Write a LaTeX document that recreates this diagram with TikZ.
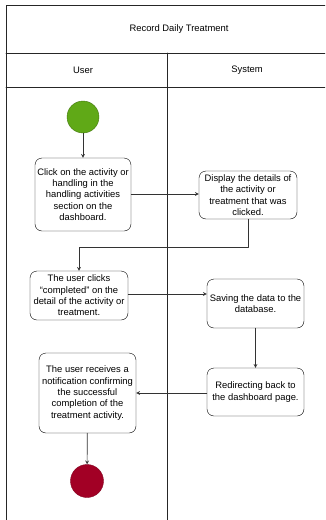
\documentclass[tikz,border=0pt]{standalone}
\usepackage{fontspec}
\setmainfont{Liberation Sans}
\definecolor{startgreen}{HTML}{60A917}
\definecolor{stopred}{HTML}{A20025}
\begin{document}
\begin{tikzpicture}[x=1pt, y=-1pt, line join=round, line cap=round, >=stealth,
		font=\fontsize{9.4pt}{11.3pt}\selectfont,
		act/.style={draw, rounded corners=7pt, align=center, inner sep=1pt},
		lane/.style={draw=black!85, line width=0.8pt},
		flow/.style={->, draw=black!80, line width=0.7pt}]
	\useasboundingbox (0,0) rectangle (325,520);
	\clip (0,0) rectangle (325,520);
	% swimlane frame
	\draw[lane] (340,5) -- (6,5) -- (6,525);
	\draw[lane] (6,53) -- (340,53);
	\draw[lane] (6,87) -- (340,87);
	\draw[lane] (167,53) -- (167,525);
	\node (title) at (179,29) {Record Daily Treatment};
	\node (user) at (83,70) {User};
	\node (system) at (247,70) {System};
	% activities
	\node[circle, fill=startgreen, draw=startgreen!70!black, minimum size=32pt, inner sep=0pt] (start) at (83,117) {};
	\node[act, minimum width=96pt, minimum height=73pt] (b1) at (83,194.5) {Click on the activity or\\handling in the\\handling activities\\section on the\\dashboard.};
	\node[act, minimum width=98pt, minimum height=48pt] (b2) at (248,195) {Display the details of\\the activity or\\treatment that was\\clicked.};
	\node[act, minimum width=98pt, minimum height=49pt] (b3) at (79,295.5) {The user clicks\\``completed'' on the\\detail of the activity or\\treatment.};
	\node[act, minimum width=97pt, minimum height=49pt] (b4) at (255.5,303.5) {Saving the data to the\\database.};
	\node[act, minimum width=97pt, minimum height=80pt] (b5) at (87.5,393) {The user receives a\\notification confirming\\the successful\\completion of the\\treatment activity.};
	\node[act, minimum width=97pt, minimum height=48pt] (b6) at (255.5,392) {Redirecting back to\\the dashboard page.};
	\node[circle, fill=stopred, draw=stopred!80!black, minimum size=33pt, inner sep=0pt] (stop) at (87,481) {};
	% flow
	\draw[flow] (start) -- (b1);
	\draw[flow] (b1.east |- 0,194) -- (b2.west |- 0,194);
	\draw[flow] (b2.south) -- ++(0,28) -| (b3.north);
	\draw[flow] (b3.east |- 0,294) -- (b4.west |- 0,294);
	\draw[flow] (b4) -- (b6);
	\draw[flow] (b6.west |- 0,393) -- (b5.east |- 0,393);
	\draw[flow] (b5) -- (stop);
\end{tikzpicture}
\end{document}
